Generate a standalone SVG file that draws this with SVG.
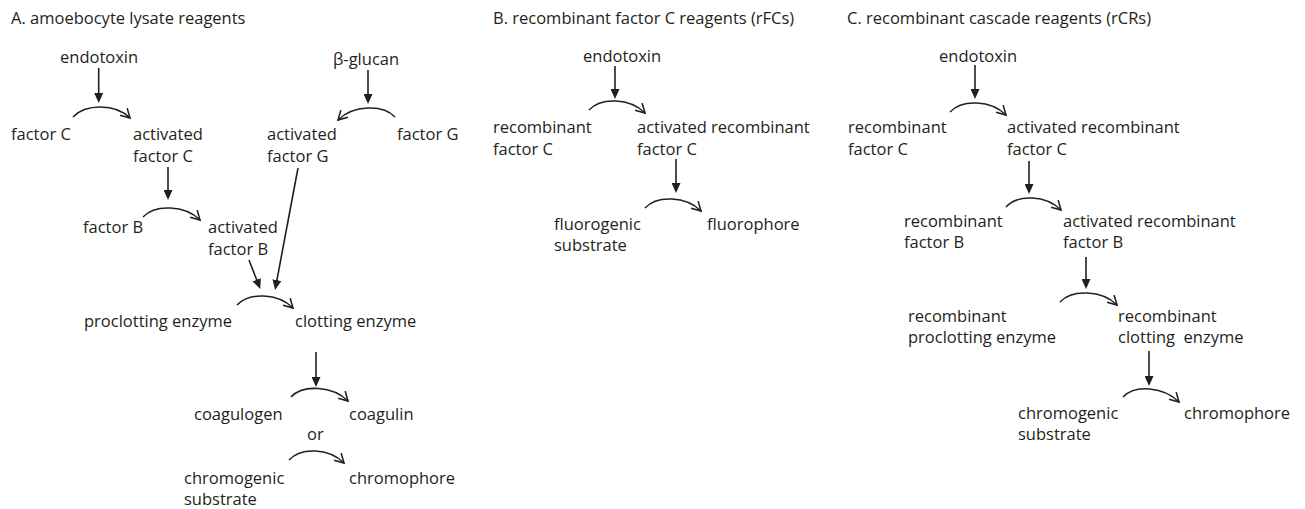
<svg xmlns="http://www.w3.org/2000/svg" width="1305" height="509" viewBox="0 0 1305 509">
<style>
text{font-family:"Open Sans","Noto Sans","Liberation Sans",sans-serif;font-size:16.5px;fill:#231f20;white-space:pre}
.ln{stroke:#231f20;stroke-width:1.6;fill:none}
.v{marker-end:url(#tri)}
.c{marker-end:url(#chev)}
</style>
<defs>
<marker id="tri" markerUnits="userSpaceOnUse" viewBox="0 0 10 9" refX="6" refY="4.5" markerWidth="10" markerHeight="9" orient="auto"><path d="M0,0 L10,4.5 L0,9 z" fill="#231f20"/></marker>
<marker id="chev" markerUnits="userSpaceOnUse" viewBox="-1 -1 12 12" refX="9" refY="5" markerWidth="12" markerHeight="12" orient="auto" overflow="visible"><path d="M0,0 L9,5 L0,10" fill="none" stroke="#231f20" stroke-width="1.6"/></marker>
</defs>
<g id="titles">
<text x="11" y="24">A. amoebocyte lysate reagents</text>
<text x="493" y="24">B. recombinant factor C reagents (rFCs)</text>
<text x="847" y="24">C. recombinant cascade reagents (rCRs)</text>
</g>
<g id="panelA">
<g id="a-endotoxin"><text x="60" y="63">endotoxin</text></g>
<g id="a-factorC"><text x="11" y="140">factor C</text></g>
<g id="a-actC"><text x="133" y="140">activated</text><text x="133" y="162">factor C</text></g>
<g id="a-glucan"><text x="333" y="65">β-glucan</text></g>
<g id="a-actG"><text x="267" y="140">activated</text><text x="267" y="162">factor G</text></g>
<g id="a-factorG"><text x="397" y="140">factor G</text></g>
<g id="a-factorB"><text x="83" y="233">factor B</text></g>
<g id="a-actB"><text x="208" y="233">activated</text><text x="208" y="255">factor B</text></g>
<g id="a-proclot"><text x="84" y="327">proclotting enzyme</text></g>
<g id="a-clot"><text x="295" y="327">clotting enzyme</text></g>
<g id="a-coagulogen"><text x="194" y="420">coagulogen</text></g>
<g id="a-coagulin"><text x="349" y="420">coagulin</text></g>
<g id="a-or"><text x="307" y="440">or</text></g>
<g id="a-chromogenic"><text x="184" y="484">chromogenic</text><text x="184" y="505">substrate</text></g>
<g id="a-chromophore"><text x="349" y="484">chromophore</text></g>
</g>
<g id="panelB">
<g id="b-endotoxin"><text x="583" y="62">endotoxin</text></g>
<g id="b-rfc"><text x="493" y="133">recombinant</text><text x="493" y="155">factor C</text></g>
<g id="b-arfc"><text x="637" y="133">activated recombinant</text><text x="637" y="155">factor C</text></g>
<g id="b-fluorogenic"><text x="554" y="230">fluorogenic</text><text x="554" y="251">substrate</text></g>
<g id="b-fluorophore"><text x="707" y="230">fluorophore</text></g>
</g>
<g id="panelC">
<g id="c-endotoxin"><text x="939" y="62">endotoxin</text></g>
<g id="c-rfc"><text x="848" y="133">recombinant</text><text x="848" y="155">factor C</text></g>
<g id="c-arfc"><text x="1007" y="133">activated recombinant</text><text x="1007" y="155">factor C</text></g>
<g id="c-rfb"><text x="904" y="227">recombinant</text><text x="904" y="248">factor B</text></g>
<g id="c-arfb"><text x="1063" y="227">activated recombinant</text><text x="1063" y="248">factor B</text></g>
<g id="c-rproclot"><text x="908" y="322">recombinant</text><text x="908" y="343">proclotting enzyme</text></g>
<g id="c-rclot"><text x="1118" y="322">recombinant</text><text x="1118" y="343">clotting  enzyme</text></g>
<g id="c-chromogenic"><text x="1018" y="419">chromogenic</text><text x="1018" y="440">substrate</text></g>
<g id="c-chromophore"><text x="1184" y="419">chromophore</text></g>
</g>
<g id="connectors">
<line class="ln v" x1="98.7" y1="68" x2="98.7" y2="99"/>
<line class="ln v" x1="168" y1="167" x2="168" y2="196"/>
<line class="ln v" x1="368" y1="70" x2="368" y2="100"/>
<line class="ln v" x1="316" y1="352" x2="316" y2="383"/>
<line class="ln v" x1="249" y1="260" x2="258.8" y2="285.3"/>
<line class="ln v" x1="298" y1="168" x2="275.8" y2="286"/>
<line class="ln v" x1="615" y1="66" x2="615" y2="95"/>
<line class="ln v" x1="676" y1="159" x2="676" y2="189"/>
<line class="ln v" x1="975" y1="65" x2="975" y2="95"/>
<line class="ln v" x1="1029" y1="161" x2="1029" y2="190"/>
<line class="ln v" x1="1086" y1="257" x2="1086" y2="285"/>
<line class="ln v" x1="1149" y1="351" x2="1149" y2="382"/>
<path class="ln c" d="M73,117 C85,104 115,103 130,118"/>
<path class="ln c" d="M143,217 C155,204 185,205 200,220"/>
<path class="ln c" d="M395,117 C383,104 353,105 338,120"/>
<path class="ln c" d="M237,305 C249,292 278,293 293,308"/>
<path class="ln c" d="M291,397 C303,384 333,386 348,401"/>
<path class="ln c" d="M289,460 C301,447 329,448 344,463"/>
<path class="ln c" d="M589,110 C601,97 630,98 645,113"/>
<path class="ln c" d="M645,208 C657,195 686,196 701,211"/>
<path class="ln c" d="M950,112 C962,99 991,100 1006,115"/>
<path class="ln c" d="M1006,207 C1018,194 1046,195 1061,210"/>
<path class="ln c" d="M1060,302 C1072,289 1102,290 1117,305"/>
<path class="ln c" d="M1123,397 C1135,384 1164,387 1179,402"/>
</g>
</svg>
